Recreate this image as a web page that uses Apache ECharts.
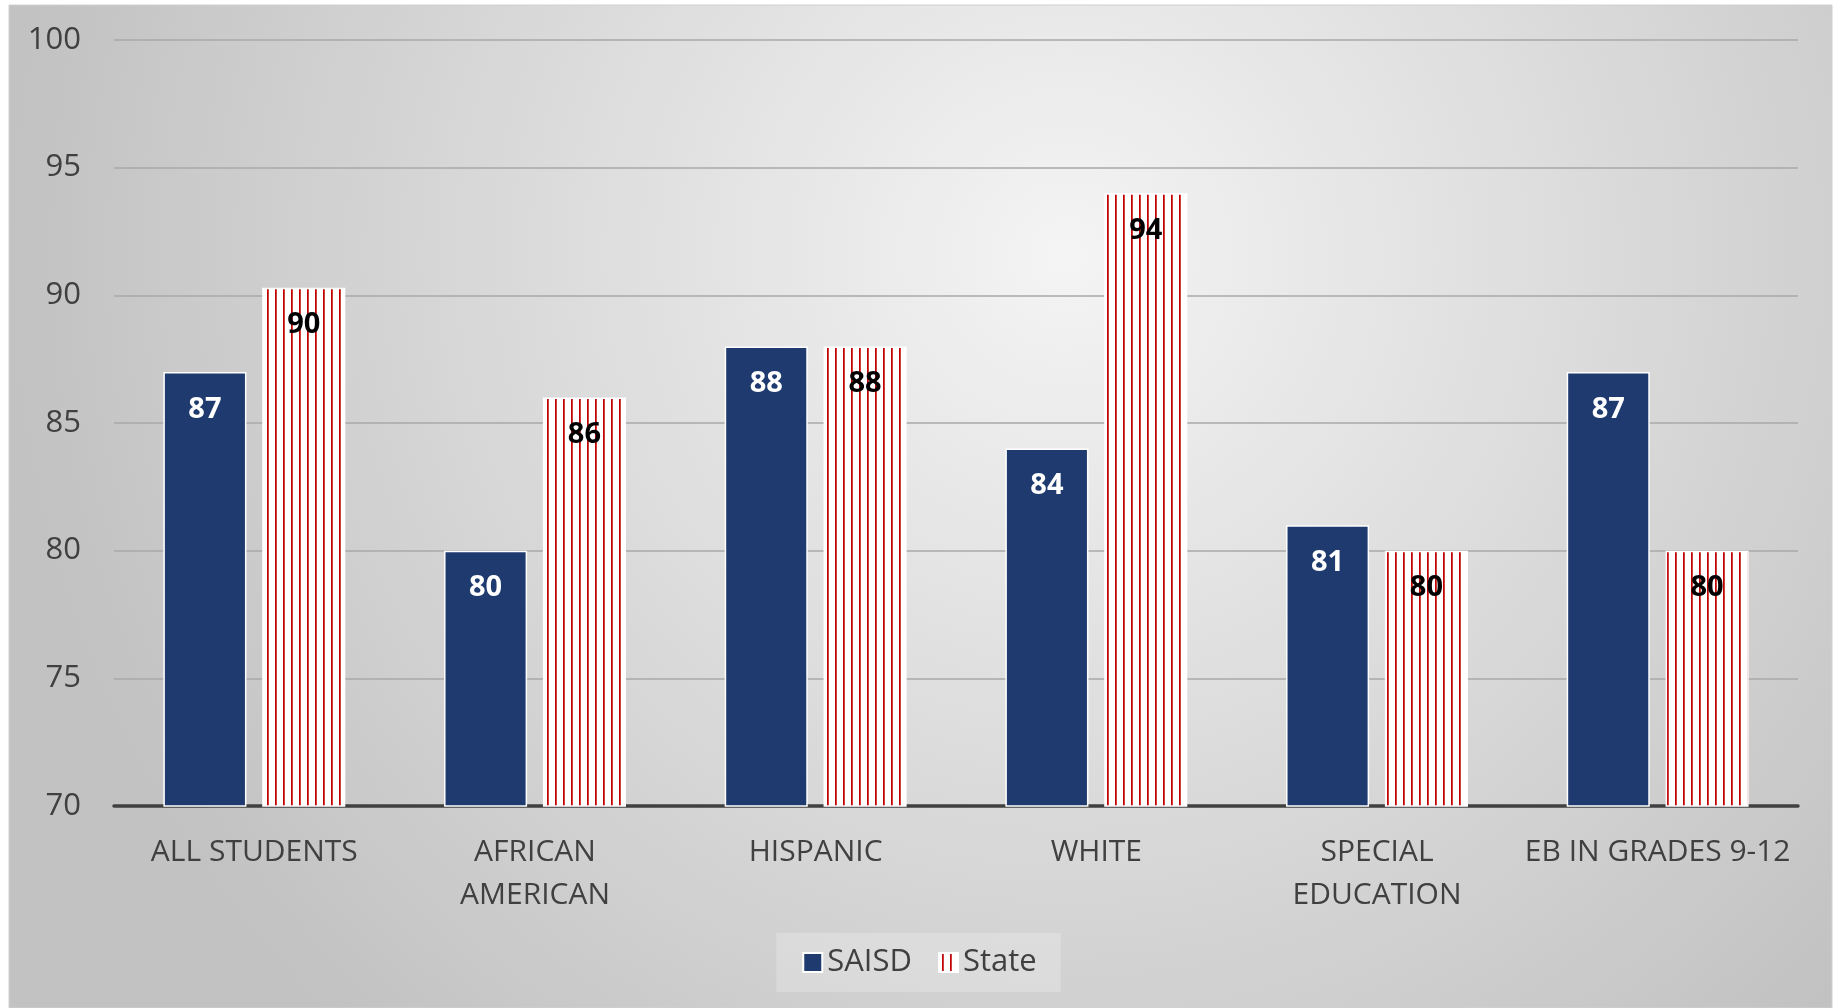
<!DOCTYPE html>
<html>
<head>
<meta charset="utf-8">
<script src="https://cdn.jsdelivr.net/npm/echarts@6/dist/echarts.min.js"></script>
<style>
  html, body { margin: 0; padding: 0; background: #fff; }
  #chart { width: 1839px; height: 1008px; }
</style>
</head>
<body>
<div id="chart"></div>
<script>
// categories on the x axis
const categories = [
  "ALL STUDENTS",
  "AFRICAN\nAMERICAN",
  "HISPANIC",
  "WHITE",
  "SPECIAL\nEDUCATION",
  "EB IN GRADES 9-12",
];
// district values
const saisdValues = [87, 80, 88, 84, 81, 87];
// state values
const stateValues = [90.3, 86, 88, 94, 80, 80];
// y axis range
const yMin = 70;
const yMax = 100;
const yStep = 5;

// red vertical stripes on white, for the State bars (8px period)
function stripePattern() {
  const c = document.createElement("canvas");
  c.width = 8;
  c.height = 8;
  const ctx = c.getContext("2d");
  ctx.fillStyle = "#ffffff";
  ctx.fillRect(0, 0, 8, 8);
  ctx.fillStyle = "#c00000";
  ctx.fillRect(3, 0, 1.75, 8);
  return c;
}

const font = "'Open Sans', 'Noto Sans', sans-serif";
const myChart = echarts.init(document.getElementById("chart"));

const option = {
  animation: false,
  textStyle: { fontFamily: font },
  graphic: [
    {
      // grey panel behind the chart
      type: "rect",
      z: -10,
      silent: true,
      shape: { x: 9, y: 5, width: 1823, height: 1003 },
      style: {
        fill: {
          type: "radial",
          x: 0.58,
          y: 0.25,
          r: 1.05,
          colorStops: [
            { offset: 0, color: "#f4f4f4" },
            { offset: 1, color: "#c2c2c2" },
          ],
        },
        stroke: "#d0d0d0",
        lineWidth: 1,
      },
    },
  ],
  grid: {
    top: 40,
    bottom: 202,
    left: 114,
    right: 41,
  },
  legend: {
    bottom: 16,
    left: "center",
    icon: "rect",
    itemWidth: 19,
    itemHeight: 19,
    itemGap: 26,
    padding: [14, 24, 14, 26],
    backgroundColor: "rgba(255,255,255,0.22)",
    textStyle: { fontSize: 31, color: "#404040", fontFamily: font },
    data: ["SAISD", "State"],
  },
  xAxis: {
    type: "category",
    data: categories,
    axisLine: { lineStyle: { color: "#404040", width: 3.5 } },
    axisTick: { show: false },
    axisLabel: {
      interval: 0,
      color: "#404040",
      fontSize: 30,
      lineHeight: 43,
      margin: 25,
    },
  },
  yAxis: {
    type: "value",
    min: yMin,
    max: yMax,
    interval: yStep,
    axisLine: { show: false },
    axisTick: { show: false },
    axisLabel: { color: "#404040", fontSize: 31, margin: 33 },
    splitLine: { lineStyle: { color: "#a9a9a9", width: 1.5 } },
  },
  series: [
    {
      name: "SAISD",
      type: "bar",
      data: saisdValues,
      barWidth: "29.6%",
      barGap: "19%",
      itemStyle: {
        color: "#1f3a6f",
        borderColor: "#ffffff",
        borderWidth: 1.5,
      },
      label: {
        show: true,
        position: "insideTop",
        distance: 23,
        color: "#ffffff",
        fontSize: 29,
        fontWeight: "bold",
        formatter: (p) => Math.round(p.value),
      },
    },
    {
      name: "State",
      type: "bar",
      data: stateValues,
      barWidth: "29.6%",
      itemStyle: {
        color: { image: stripePattern(), repeat: "repeat" },
        borderColor: "#ffffff",
        borderWidth: 1.5,
      },
      label: {
        show: true,
        position: "insideTop",
        distance: 23,
        color: "#000000",
        fontSize: 29,
        fontWeight: "bold",
        formatter: (p) => Math.round(p.value),
      },
    },
  ],
};

myChart.setOption(option);
</script>
</body>
</html>
